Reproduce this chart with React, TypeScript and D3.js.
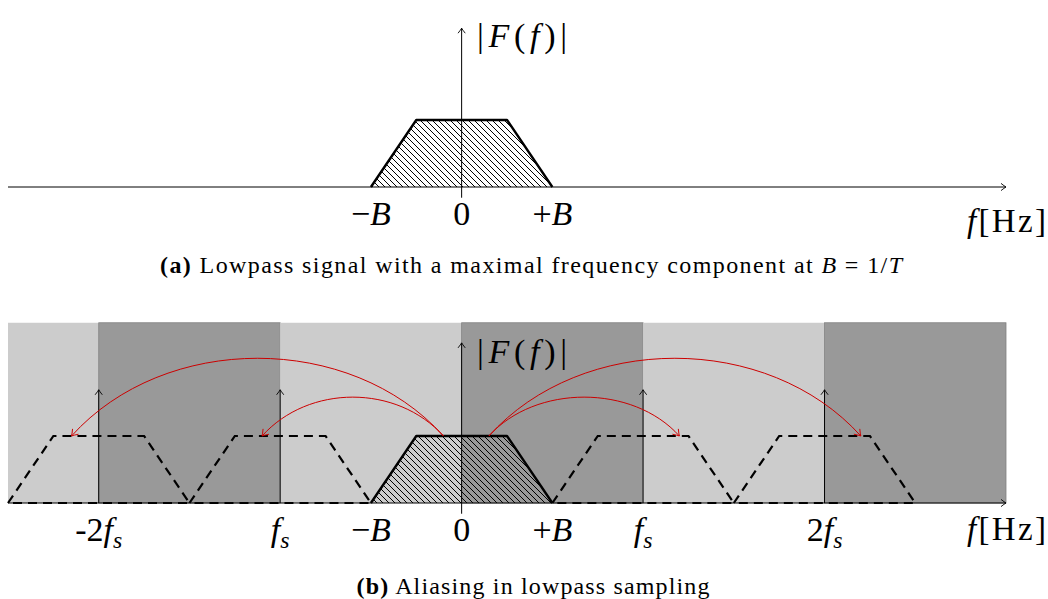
import React from 'react';
import * as d3 from 'd3';

const W = 1048;
const H = 599;

// frequency axis in units of B (fs = 2B)
const freqDomain = [-5, 6];
const bandEdges = [-5, -4, -2, 0, 2, 4, 6];
const bandShade = ['light', 'dark', 'light', 'dark', 'light', 'dark'];
const spectrumF = [-1, -0.5, 0.5, 1];
const spectrumA = [0, 1, 1, 0];
const aliasCenters = [-4, -2, 2, 4];
const arcStarts = [-0.2, -0.2, 0.3, 0.3];
const arcEnds = [-4.3, -2.2, 2.4, 4.4];
const arcPeaks = [2.16, 1.58, 1.58, 2.16];

type Seg = { t: string; i?: boolean; s?: boolean };
const topTickPos = [-1, 0, 1];
const topTickLabels: Seg[][] = [
  [{ t: '−' }, { t: 'B', i: true }],
  [{ t: '0' }],
  [{ t: '+' }, { t: 'B', i: true }],
];
const bottomTickPos = [-4, -2, -1, 0, 1, 2, 4];
const bottomTickLabels: Seg[][] = [
  [{ t: '-2' }, { t: 'f', i: true }, { t: 's', i: true, s: true }],
  [{ t: 'f', i: true }, { t: 's', i: true, s: true }],
  [{ t: '−' }, { t: 'B', i: true }],
  [{ t: '0' }],
  [{ t: '+' }, { t: 'B', i: true }],
  [{ t: 'f', i: true }, { t: 's', i: true, s: true }],
  [{ t: '2' }, { t: 'f', i: true }, { t: 's', i: true, s: true }],
];
const axisLabelX: Seg[] = [{ t: 'f', i: true }, { t: '[Hz]' }];
const axisLabelY: Seg[] = [{ t: '|' }, { t: 'F', i: true }, { t: '(' }, { t: 'f', i: true }, { t: ')|' }];
const captionA = 'Lowpass signal with a maximal frequency component at ';
const captionB = 'Aliasing in lowpass sampling';

const FONT = '"Liberation Serif", "DejaVu Serif", serif';

function MathText({ x, y, segs, size, anchor = 'middle', len }: { x: number; y: number; segs: Seg[]; size: number; anchor?: string; len?: number }) {
  return (
    <text x={x} y={y} fontSize={size} textAnchor={anchor} fontFamily={FONT} fill="#000" textLength={len} lengthAdjust={len ? 'spacing' : undefined}>
      {segs.map((sg, k) => (
        <tspan
          key={k}
          fontStyle={sg.i ? 'italic' : 'normal'}
          fontSize={sg.s ? size * 0.7 : undefined}
          dy={sg.s ? size * 0.2 : undefined}
        >
          {sg.t}
        </tspan>
      ))}
    </text>
  );
}

export default function App() {
  const x = d3.scaleLinear().domain(freqDomain).range([8, 1006]);
  const yTop = d3.scaleLinear().domain([0, 1]).range([187, 120]);
  const yBot = d3.scaleLinear().domain([0, 1]).range([503, 436]);

  const trap = (yS: d3.ScaleLinear<number, number>, shift: number, close: boolean) => {
    const pts: [number, number][] = spectrumF.map((f, k) => [x(f + shift), yS(spectrumA[k])]);
    const p = d3.line()(pts) as string;
    return close ? p + 'Z' : p;
  };

  const arcPath = (k: number) => {
    const x0 = x(arcStarts[k]);
    const x1 = x(arcEnds[k]);
    const y0 = yBot(1);
    const peak = yBot(arcPeaks[k]);
    const hgt = (y0 - peak) / 0.75;
    const dir = Math.sign(x1 - x0);
    const a = hgt / Math.tan((48 * Math.PI) / 180);
    const p = d3.path();
    p.moveTo(x0, y0);
    p.bezierCurveTo(x0 + dir * a, y0 - hgt, x1 - dir * a, y0 - hgt, x1, y0);
    return p.toString();
  };

  const bands = bandShade.map((s, k) => ({ s, x0: x(bandEdges[k]), x1: x(bandEdges[k + 1]) }));

  return (
    <svg width={W} height={H} style={{ position: 'absolute', left: 0, top: 0, background: '#fff' }}>
      <defs>
        <marker id="ax" viewBox="-7 -5 8 10" refX="0" refY="0" markerWidth="8" markerHeight="10" markerUnits="userSpaceOnUse" orient="auto">
          <path d="M-5,-3.6 Q-1.6,-0.9 0,0 Q-1.6,0.9 -5,3.6" fill="none" stroke="#000" strokeWidth="0.9" />
        </marker>
        <marker id="rd" viewBox="-8 -6 9 12" refX="0" refY="0" markerWidth="9" markerHeight="12" markerUnits="userSpaceOnUse" orient="auto">
          <path d="M-6,-4 Q-2,-1 0,0 Q-2,1 -6,4" fill="none" stroke="#cc0000" strokeWidth="0.9" />
        </marker>
        <pattern id="hatch" patternUnits="userSpaceOnUse" width="6" height="6">
          <path d="M0,0 L6,6 M-1,5 L1,7 M5,-1 L7,1" stroke="#000" strokeWidth="1" />
        </pattern>
      </defs>

      {/* ---------- panel (a) ---------- */}
      <path d={trap(yTop, 0, true)} fill="url(#hatch)" stroke="none" />
      <line x1={x(-5)} x2={x(6)} y1={yTop(0)} y2={yTop(0)} stroke="#000" strokeWidth={1} markerEnd="url(#ax)" />
      <path d={trap(yTop, 0, false)} fill="none" stroke="#000" strokeWidth={2.4} strokeLinejoin="round" />
      <line x1={x(0)} x2={x(0)} y1={yTop(-0.16)} y2={yTop(2.37)} stroke="#000" strokeWidth={1} markerEnd="url(#ax)" />
      {topTickPos.map((f, k) => (
        <MathText key={k} x={x(f)} y={225} segs={topTickLabels[k]} size={34} />
      ))}
      <MathText x={1046} y={232} segs={axisLabelX} size={33} anchor="end" len={79} />
      <MathText x={477} y={47} segs={axisLabelY} size={34} anchor="start" len={90} />
      <text x={531} y={273} fontSize={24} textAnchor="middle" fontFamily={FONT} textLength={742} lengthAdjust="spacing">
        <tspan fontWeight="bold">(a)</tspan> {captionA}
        <tspan fontStyle="italic">B</tspan> = 1/<tspan fontStyle="italic">T</tspan>
      </text>

      {/* ---------- panel (b) ---------- */}
      {bands.map((b, k) => (
        <rect
          key={k}
          x={b.x0}
          y={yBot(2.69)}
          width={b.x1 - b.x0}
          height={yBot(0) - yBot(2.69)}
          fill={b.s === 'dark' ? '#999999' : '#cccccc'}
          stroke={b.s === 'dark' ? '#808080' : 'none'}
          strokeWidth={0.8}
        />
      ))}
      <path d={trap(yBot, 0, true)} fill="url(#hatch)" stroke="none" />
      <line x1={x(-5)} x2={x(6)} y1={yBot(0)} y2={yBot(0)} stroke="#000" strokeWidth={1} markerEnd="url(#ax)" />
      {aliasCenters.map((c, k) => (
        <path key={k} d={trap(yBot, c, true)} fill="none" stroke="#000" strokeWidth={2.2} strokeDasharray="9 6" />
      ))}
      <path d={trap(yBot, 0, false)} fill="none" stroke="#000" strokeWidth={2.4} strokeLinejoin="round" />
      {aliasCenters.map((c, k) => (
        <line key={k} x1={x(c)} x2={x(c)} y1={yBot(0)} y2={yBot(1.69)} stroke="#000" strokeWidth={1} markerEnd="url(#ax)" />
      ))}
      <line x1={x(0)} x2={x(0)} y1={yBot(-0.16)} y2={yBot(2.39)} stroke="#000" strokeWidth={1} markerEnd="url(#ax)" />
      {arcStarts.map((_, k) => (
        <path key={k} d={arcPath(k)} fill="none" stroke="#cc0000" strokeWidth={1} markerEnd="url(#rd)" />
      ))}
      {bottomTickPos.map((f, k) => (
        <MathText key={k} x={x(f)} y={541} segs={bottomTickLabels[k]} size={34} />
      ))}
      <MathText x={1046} y={540} segs={axisLabelX} size={33} anchor="end" len={79} />
      <MathText x={477} y={363} segs={axisLabelY} size={34} anchor="start" len={90} />
      <text x={533} y={594} fontSize={24} textAnchor="middle" fontFamily={FONT} textLength={353} lengthAdjust="spacing">
        <tspan fontWeight="bold">(b)</tspan> {captionB}
      </text>
    </svg>
  );
}
